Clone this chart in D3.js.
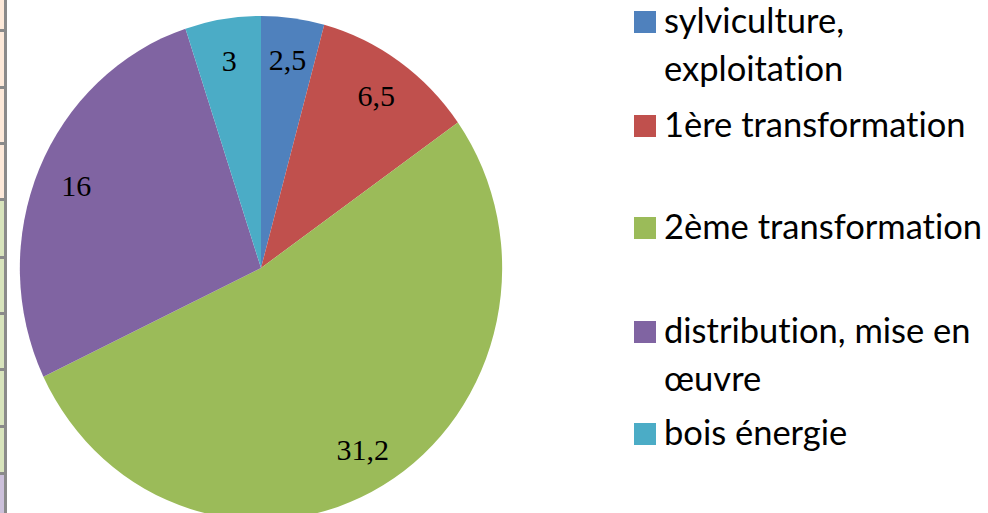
<!DOCTYPE html>
<html>
<head>
<meta charset="utf-8">
<script src="https://cdn.jsdelivr.net/npm/d3@7"></script>
<style>
  body { margin: 0; background: #fff; }
  svg { display: block; }
</style>
</head>
<body>
<div id="main"></div>
<script>
const categories = ["sylviculture, exploitation", "1ère transformation", "2ème transformation",
    "distribution, mise en œuvre", "bois énergie"];
const values = [2.5, 6.5, 31.2, 16, 3];
const valueLabels = ["2,5", "6,5", "31,2", "16", "3"];
// legend text broken into lines the way the original wraps them
const legendLines = [["sylviculture,", "exploitation"], ["1ère transformation"], ["2ème transformation"],
    ["distribution, mise en", "œuvre"], ["bois énergie"]];
const colors = ["#4F81BD", "#C0504D", "#9BBB59", "#8064A2", "#4BACC6"];

// strip of spreadsheet cells showing at the left edge
const stripRows = [30, 87, 143, 199, 257, 313, 369, 426, 473];
const stripFills = [[0, 199, "#FDE9D9"], [199, 473, "#D8E4BC"], [473, 513, "#CCC0DA"]];

const w = 988;
const h = 513;

const svg = d3.select("#main").append("svg").attr("width", w).attr("height", h);

// left strip
const strip = svg.append("g");
strip.selectAll("rect.fill")
    .data(stripFills)
    .enter()
    .append("rect")
    .attr("class", "fill")
    .attr("x", 0)
    .attr("y", d => d[0])
    .attr("width", 5)
    .attr("height", d => d[1] - d[0])
    .style("fill", d => d[2]);
strip.append("rect")
    .attr("x", 4).attr("y", 0).attr("width", 3).attr("height", h)
    .style("fill", "#8a8a8a");
strip.selectAll("rect.sep")
    .data(stripRows)
    .enter()
    .append("rect")
    .attr("class", "sep")
    .attr("x", 0)
    .attr("y", d => d - 1)
    .attr("width", 7)
    .attr("height", 3)
    .style("fill", "#8a8a8a");

// pie (drawn slightly squeezed horizontally like the original)
const cx = 261, cy = 268;
const r = 252;

const pie = d3.pie().sort(null).value(d => d);
const arcs = pie(values);

const arc = d3.arc().innerRadius(0).outerRadius(r);
const labelArc = d3.arc().innerRadius(210).outerRadius(210);

const g = svg.append("g")
    .attr("transform", "translate(" + cx + "," + cy + ") scale(0.957,1)");

g.selectAll("path")
    .data(arcs)
    .enter()
    .append("path")
    .attr("d", arc)
    .style("fill", (d, i) => colors[i]);

svg.append("g")
    .selectAll("text")
    .data(arcs)
    .enter()
    .append("text")
    .attr("x", d => cx + labelArc.centroid(d)[0] * 0.957)
    .attr("y", d => cy + labelArc.centroid(d)[1])
    .attr("dy", "0.35em")
    .style("text-anchor", "middle")
    .style("font-family", "'Liberation Serif', serif")
    .style("font-size", "30px")
    .style("fill", "#000")
    .text((d, i) => valueLabels[i]);

// legend
const legendTop = [33, 137, 239, 343, 445];
const lineStep = 48;

const legend = svg.append("g");
const items = legend.selectAll("g")
    .data(categories)
    .enter()
    .append("g");

items.append("rect")
    .attr("x", 634)
    .attr("y", (d, i) => legendTop[i] - 22)
    .attr("width", 22)
    .attr("height", 22)
    .style("fill", (d, i) => colors[i]);

items.append("text")
    .attr("x", 664)
    .attr("y", (d, i) => legendTop[i])
    .style("font-family", "Lato, sans-serif")
    .style("font-size", "34.5px")
    .style("font-variant-ligatures", "none")
    .style("fill", "#000")
    .selectAll("tspan")
    .data((d, i) => legendLines[i])
    .enter()
    .append("tspan")
    .attr("x", 664)
    .attr("dy", (d, j) => j === 0 ? 0 : lineStep)
    .text(d => d);
</script>
</body>
</html>
